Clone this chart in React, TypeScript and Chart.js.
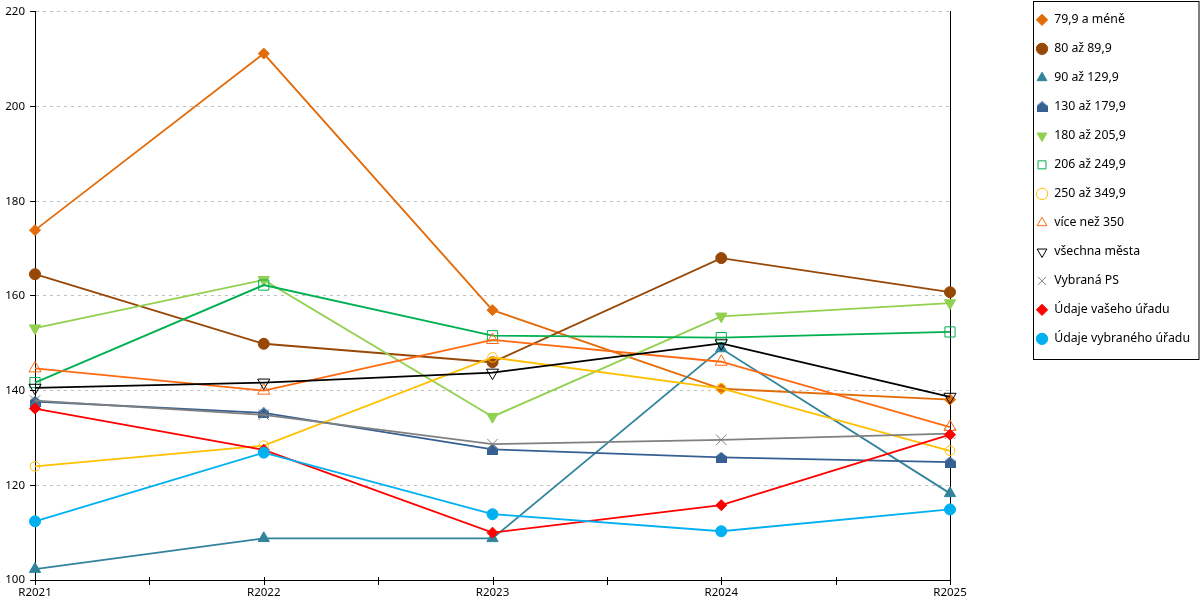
import { useEffect, useRef } from 'react';
import { Chart, registerables } from 'chart.js';

Chart.register(...registerables);

const years = ['R2021', 'R2022', 'R2023', 'R2024', 'R2025'];

const upTo79 = [173.9, 211.2, 157.0, 140.4, 138.1];
const from80 = [164.6, 149.9, 146.0, 168.0, 160.8];
const from90 = [102.3, 108.8, 108.8, 148.9, 118.3];
const from130 = [137.7, 135.3, 127.6, 125.9, 124.9];
const from180 = [153.2, 163.4, 134.5, 155.7, 158.5];
const from206 = [141.7, 162.3, 151.6, 151.2, 152.4];
const from250 = [124.0, 128.4, 147.0, 140.5, 127.3];
const over350 = [144.7, 140.0, 150.7, 146.1, 132.3];
const allCities = [140.6, 141.7, 143.8, 150.0, 138.7];
const selectedPS = [137.9, 134.9, 128.7, 129.6, 130.9];
const yourOffice = [136.2, 127.5, 110.0, 115.8, 130.7];
const selectedOffice = [112.4, 126.9, 113.9, 110.3, 114.9];

const yTicks = [100, 120, 140, 160, 180, 200, 220];

const FONT = "'Noto Sans', sans-serif";

// little house marker (no built-in point style for it)
function houseMarker(color: string) {
  const c = document.createElement('canvas');
  c.width = 11;
  c.height = 11;
  const g = c.getContext('2d')!;
  g.fillStyle = color;
  g.beginPath();
  g.moveTo(5.5, 0);
  g.lineTo(11, 4.5);
  g.lineTo(11, 11);
  g.lineTo(0, 11);
  g.lineTo(0, 4.5);
  g.closePath();
  g.fill();
  return c;
}

const decorations = {
  id: 'decorations',
  afterDraw(chart: any) {
    const { ctx, chartArea, scales } = chart;
    const x = scales.x;
    ctx.save();
    ctx.strokeStyle = '#000';
    ctx.lineWidth = 1;
    ctx.beginPath();
    for (let i = 0; i < years.length; i++) {
      const px = Math.round(x.getPixelForValue(i)) + 0.5;
      ctx.moveTo(px, chartArea.bottom - 3);
      ctx.lineTo(px, chartArea.bottom + 5);
      if (i < years.length - 1) {
        const mx = Math.round((x.getPixelForValue(i) + x.getPixelForValue(i + 1)) / 2) + 0.5;
        ctx.moveTo(mx, chartArea.bottom - 3);
        ctx.lineTo(mx, chartArea.bottom + 5);
      }
    }
    ctx.stroke();

    const boxes = chart.legend?.legendHitBoxes;
    if (boxes && boxes.length) {
      const left = Math.round(boxes[0].left) - 3 + 0.5;
      const last = boxes[boxes.length - 1];
      const bottom = Math.round(last.top + last.height / 2 + 20) + 0.5;
      ctx.strokeRect(left, 1.5, chart.width - 1 - left, bottom - 1.5);
    }
    ctx.restore();
  },
};

export default function App() {
  const canvasRef = useRef<HTMLCanvasElement>(null);
  const chartRef = useRef<Chart | null>(null);

  useEffect(() => {
    if (!canvasRef.current) return;
    if (chartRef.current) chartRef.current.destroy();

    const house = houseMarker('#376092');

    const series = [
      { label: '79,9 a méně', values: upTo79, color: '#E36C09', style: 'rectRot', radius: 5.5, open: false },
      { label: '80 až 89,9', values: from80, color: '#974706', style: 'circle', radius: 5.5, open: false },
      { label: '90 až 129,9', values: from90, color: '#31849B', style: 'triangle', radius: 6.5, open: false },
      { label: '130 až 179,9', values: from130, color: '#376092', style: house, radius: 6, open: false },
      { label: '180 až 205,9', values: from180, color: '#92D050', style: 'triangle', radius: 6.5, open: false, rot: 180 },
      { label: '206 až 249,9', values: from206, color: '#00B050', style: 'rect', radius: 7.2, open: true },
      { label: '250 až 349,9', values: from250, color: '#FFC000', style: 'circle', radius: 4.8, open: true },
      { label: 'více než 350', values: over350, color: '#FF6A10', style: 'triangle', radius: 7, open: true },
      { label: 'všechna města', values: allCities, color: '#000000', style: 'triangle', radius: 7, open: true, rot: 180 },
      { label: 'Vybraná PS', values: selectedPS, color: '#808080', style: 'crossRot', radius: 7.5, open: true },
      { label: 'Údaje vašeho úřadu', values: yourOffice, color: '#FF0000', style: 'rectRot', radius: 5.5, open: false },
      { label: 'Údaje vybraného úřadu', values: selectedOffice, color: '#00B0F0', style: 'circle', radius: 5.5, open: false },
    ];

    const datasets = series.map((s, i) => ({
      label: s.label,
      data: s.values,
      borderColor: s.color,
      backgroundColor: s.color,
      borderWidth: 1.8,
      pointStyle: s.style as any,
      pointRotation: s.rot || 0,
      pointRadius: s.radius,
      pointBackgroundColor: s.open ? 'rgba(255,255,255,0)' : s.color,
      pointBorderColor: s.color,
      pointBorderWidth: 1,
      tension: 0,
      fill: false,
      order: series.length - i,
    }));

    chartRef.current = new Chart(canvasRef.current, {
      type: 'line',
      data: { labels: years, datasets },
      plugins: [decorations],
      options: {
        animation: false,
        responsive: true,
        maintainAspectRatio: false,
        layout: { padding: { top: -3, right: 0, bottom: 0, left: 0 } },
        plugins: {
          tooltip: { enabled: false },
          legend: {
            position: 'right',
            align: 'start',
            labels: {
              usePointStyle: true,
              boxWidth: 12,
              boxHeight: 8,
              padding: 16.7,
              color: '#000',
              font: { family: FONT, size: 12.3 },
              sort: (a: any, b: any) => a.datasetIndex - b.datasetIndex,
            },
          },
        },
        scales: {
          x: {
            type: 'category',
            offset: false,
            grid: { display: false, drawTicks: false },
            border: { display: true, color: '#000', width: 1 },
            ticks: { color: '#000', padding: 6, font: { family: FONT, size: 11.5 }, maxRotation: 0 },
            afterFit: (s: any) => { s.height = 20; },
          },
          xTop: {
            type: 'category',
            position: 'top',
            labels: years,
            grid: { display: false, drawTicks: false },
            border: { display: false },
            ticks: { display: false },
            afterFit: (s: any) => { s.height = 13; },
          },
          y: {
            min: 100,
            max: 220,
            afterBuildTicks: (s: any) => { s.ticks = yTicks.map((v) => ({ value: v })); },
            grid: {
              color: '#C0C0C0',
              tickLength: 5,
              tickColor: '#000',
              tickBorderDash: [],
            } as any,
            // in chart.js 4 border.dash dashes the grid lines, the axis line stays solid
            border: { display: true, color: '#000', width: 1, dash: [3, 4] } as any,
            ticks: { color: '#000', padding: 5, font: { family: FONT, size: 11.5 } },
            afterFit: (s: any) => { s.width = 35; },
          },
          yRight: {
            type: 'linear',
            position: 'right',
            grid: { display: false, drawTicks: false },
            border: { display: true, color: '#000', width: 1 },
            ticks: { display: false },
            afterFit: (s: any) => { s.width = s.chart.width - s.chart.legend.width - 950; },
          },
        },
      },
    });

    return () => {
      if (chartRef.current) {
        chartRef.current.destroy();
        chartRef.current = null;
      }
    };
  }, []);

  return (
    <div style={{ position: 'fixed', left: 0, top: 0, width: 1200, height: 600, background: '#fff' }}>
      <canvas ref={canvasRef} />
    </div>
  );
}
